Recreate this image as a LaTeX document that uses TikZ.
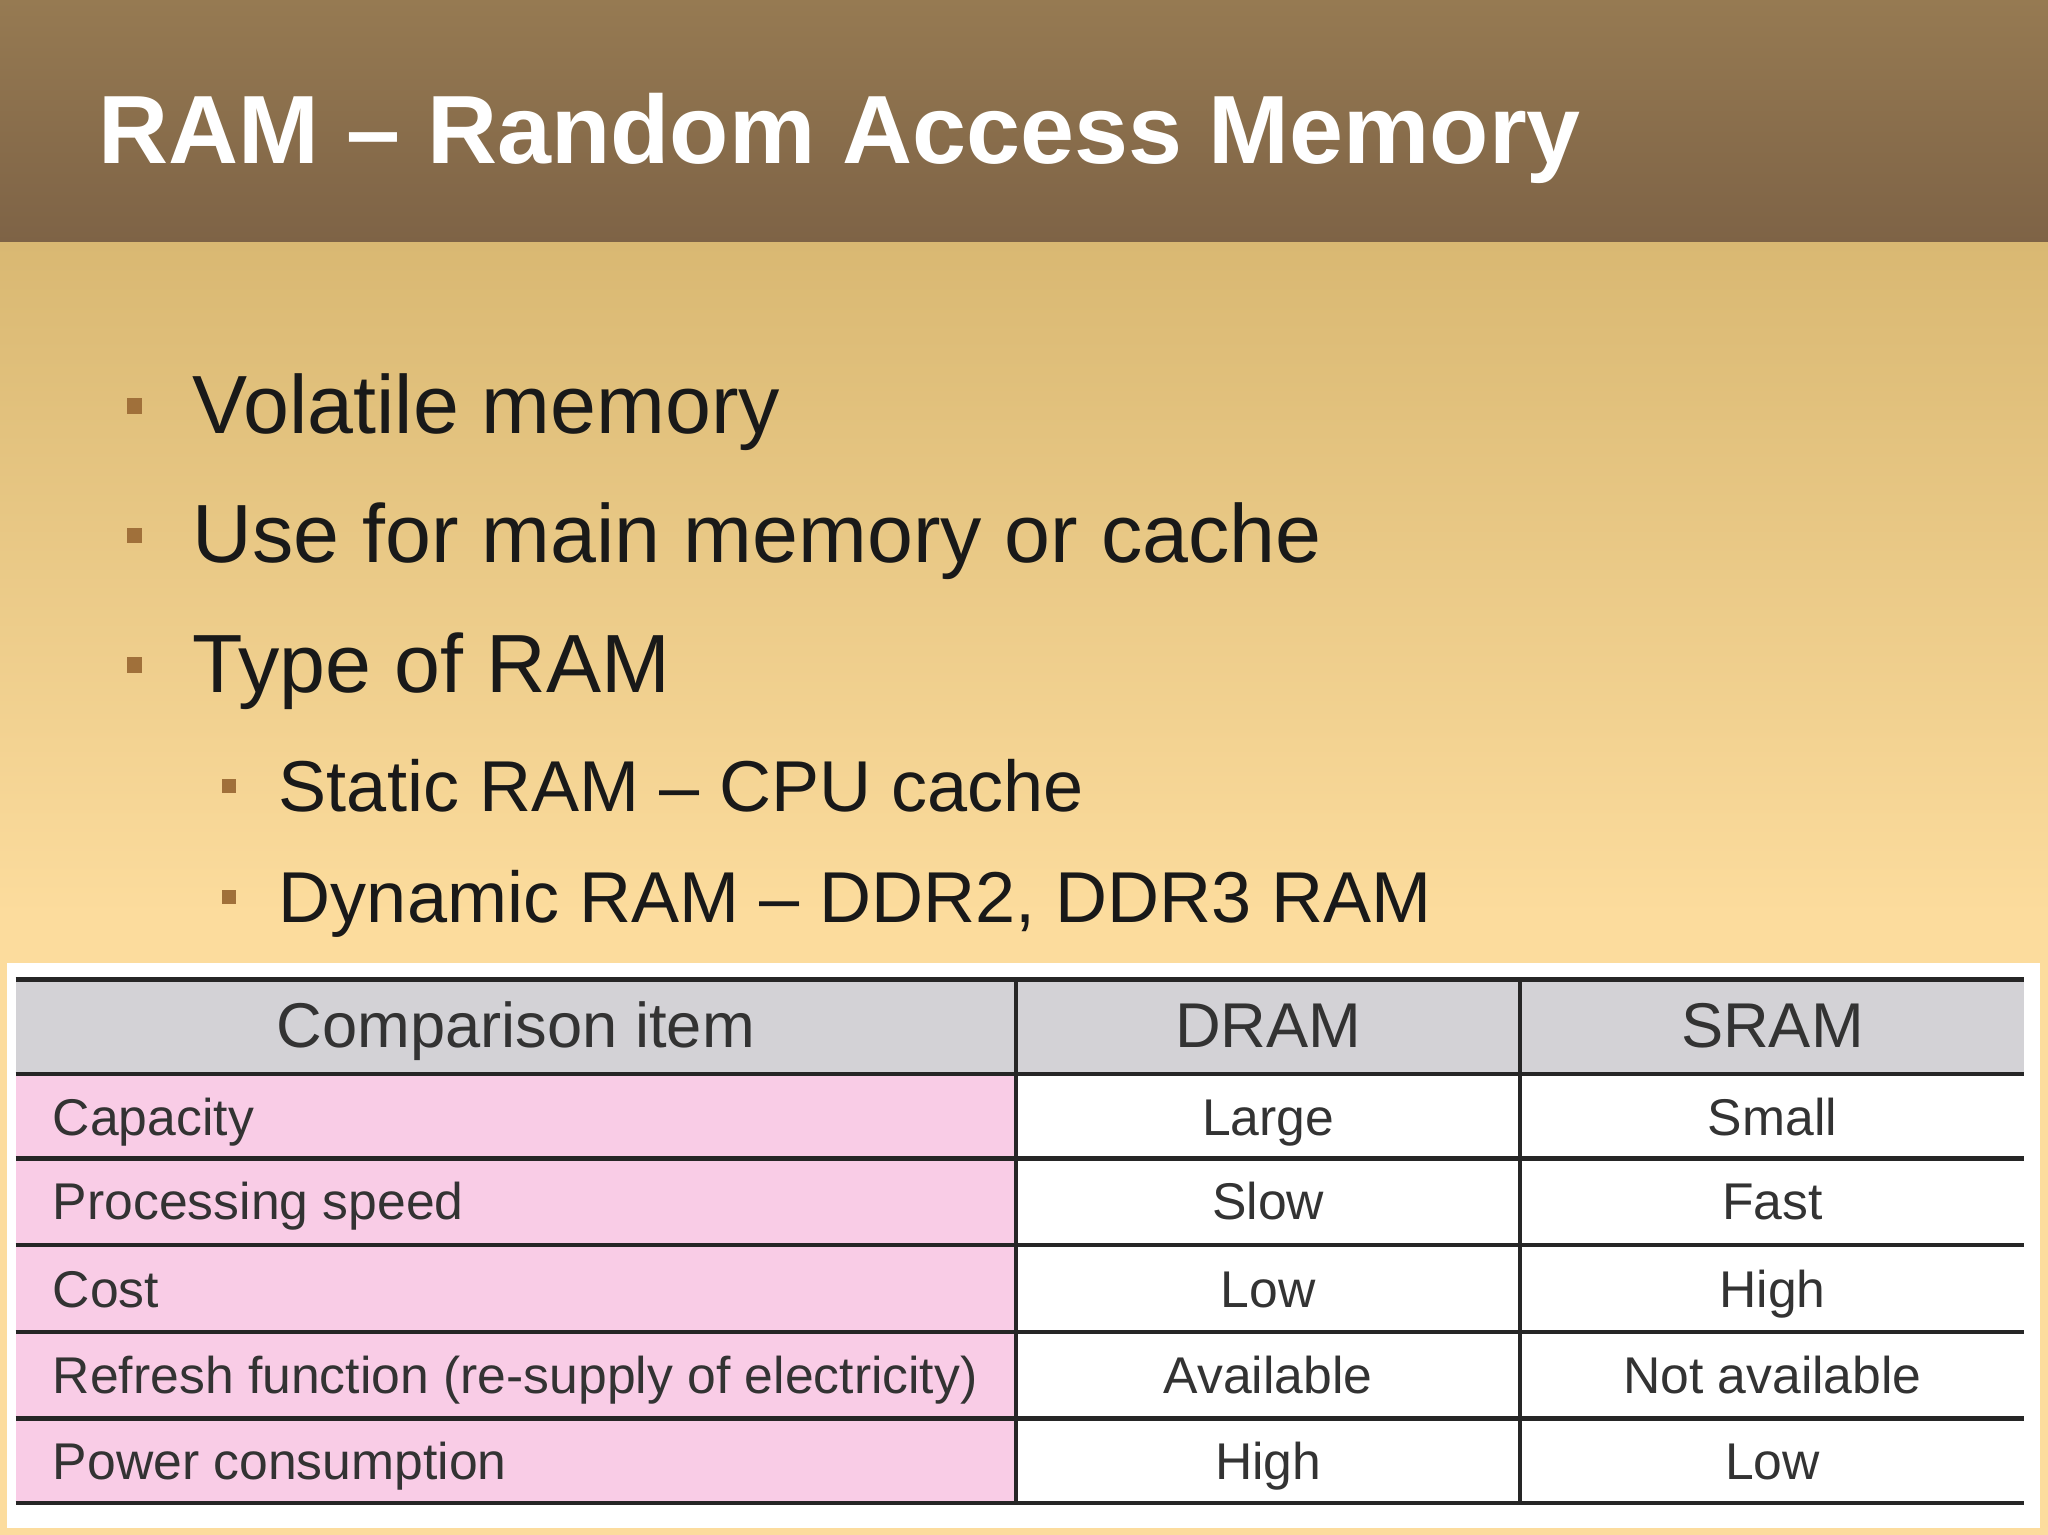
\documentclass[tikz,border=0pt]{standalone}
\usepackage{fontspec}
\setmainfont{Liberation Sans}
\usetikzlibrary{positioning}
\definecolor{bartop}{HTML}{967A52}
\definecolor{barbot}{HTML}{7E6346}
\definecolor{bgtop}{HTML}{D9B872}
\definecolor{bgbot}{HTML}{FCDC9D}
\definecolor{bulletbrown}{HTML}{A0703A}
\definecolor{headgray}{HTML}{D3D2D6}
\definecolor{rowpink}{HTML}{F9CCE6}
\begin{document}
\begin{tikzpicture}[x=0.01306cm, y=-0.01306cm]
        \tikzstyle{bullet}=[fill=bulletbrown, minimum size=4.5pt, inner sep=0pt]
        \tikzstyle{item}=[anchor=base west, inner sep=0pt, font=\fontsize{23.5}{26}\selectfont, text=black!90]
        \tikzstyle{subitem}=[anchor=base west, inner sep=0pt, font=\fontsize{20.5}{23}\selectfont, text=black!90]
        \tikzstyle{cell}=[font=\fontsize{14.7}{16}\selectfont, text=black!80, anchor=base, inner sep=0pt]
        \tikzstyle{head-cell}=[font=\fontsize{18}{20}\selectfont, text=black!80, anchor=base, inner sep=0pt]
        \tikzstyle{rule}=[line width=1.2pt, black!85]
        % background and title bar
        \useasboundingbox (0, 0) rectangle (1568, 1175);
        \fill[bgbot] (0, 700) rectangle (1568, 1175);
        \shade[top color=bgtop, bottom color=bgbot] (0, 185) rectangle (1568, 701);
        \shade[top color=bartop, bottom color=barbot] (0, 0) rectangle (1568, 185);
        \node[anchor=base west, inner sep=0pt, text=white, font=\fontsize{27.6}{30}\selectfont\bfseries] (title) at (75, 125) {RAM -- Random Access Memory};

        % bullets
        \node[bullet] (b1) at (103, 311) {};
        \node[item] (volatile) at (147, 332) {Volatile memory};
        \node[bullet] (b2) at (103, 410) {};
        \node[item] (use) at (147, 431) {Use for main memory or cache};
        \node[bullet] (b3) at (103, 509) {};
        \node[item] (type) at (147, 530) {Type of RAM};
        \node[bullet, minimum size=4pt] (b4) at (175, 602) {};
        \node[subitem] (static) at (213, 621) {Static RAM -- CPU cache};
        \node[bullet, minimum size=4pt] (b5) at (175, 687) {};
        \node[subitem] (dynamic) at (213, 706) {Dynamic RAM -- DDR2, DDR3 RAM};

        % table
        \fill[white] (5, 737) rectangle (1562, 1170);
        \fill[headgray] (12, 750) rectangle (1550, 822);
        \fill[rowpink] (12, 822) rectangle (778, 1151);
        \foreach \y in {750, 822, 887, 953, 1020, 1086, 1151}
            \draw[rule] (12, \y) -- (1550, \y);
        \draw[rule] (778, 750) -- (778, 1151);
        \draw[rule] (1164, 750) -- (1164, 1151);

        \node[head-cell] (h-item) at (395, 802) {Comparison item};
        \node[head-cell] (h-dram) at (971, 802) {DRAM};
        \node[head-cell] (h-sram) at (1357, 802) {SRAM};

        \foreach \y/\name/\dram/\sram [count=\i] in {
                869/Capacity/Large/Small,
                934/Processing speed/Slow/Fast,
                1001/Cost/Low/High,
                1067/{Refresh function (re-supply of electricity)}/Available/Not available,
                1133/Power consumption/High/Low} {
            \node[cell, anchor=base west] (item-\i) at (40, \y) {\name};
            \node[cell] (dram-\i) at (971, \y) {\dram};
            \node[cell] (sram-\i) at (1357, \y) {\sram};
        }
    \end{tikzpicture}
\end{document}
